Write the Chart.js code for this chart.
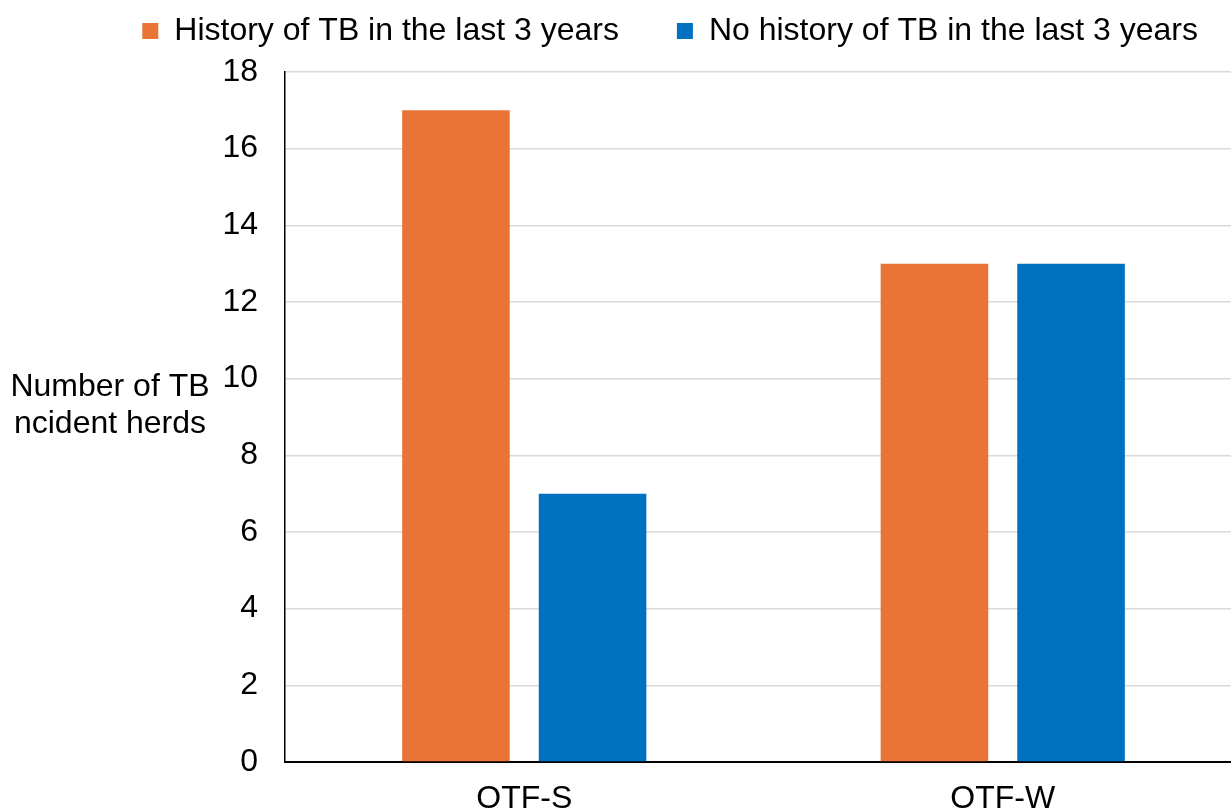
<!DOCTYPE html>
<html>
<head>
<meta charset="utf-8">
<script src="https://cdn.jsdelivr.net/npm/chart.js@4"></script>
<style>
  html, body { margin: 0; padding: 0; background: #fff; }
  #wrap { width: 1231px; height: 810px; }
</style>
</head>
<body>
<div id="wrap"><canvas id="herdChart" width="1231" height="810"></canvas></div>
<script>
const categories = ['OTF-S', 'OTF-W'];
const withHistory = [17, 13];
const noHistory = [7, 13];
const seriesNames = ['History of TB in the last 3 years', 'No history of TB in the last 3 years'];
const yTitleLines = ['Number of TB', 'ncident herds'];

const FONT = "'Liberation Sans', Arial, sans-serif";

// y title is horizontal in the original, so draw it ourselves
const sideTitle = {
  id: 'sideTitle',
  afterDraw(chart) {
    const ctx = chart.ctx;
    ctx.save();
    ctx.font = '32px ' + FONT;
    ctx.fillStyle = '#000';
    ctx.textAlign = 'center';
    ctx.textBaseline = 'alphabetic';
    ctx.fillText(yTitleLines[0], 110, 396);
    ctx.fillText(yTitleLines[1], 110, 433);
    ctx.restore();
  }
};

// legend tweaks: more room below it, and nudged into place
const legendGap = {
  id: 'legendGap',
  beforeUpdate(chart) {
    const lg = chart.legend;
    if (lg && !lg._patched) {
      const fit = lg.fit;
      lg.fit = function () {
        fit.call(this);
        this.height = 104;
      };
      const draw = lg.draw;
      lg.draw = function () {
        this.ctx.save();
        this.ctx.translate(25, -11);
        draw.apply(this, arguments);
        this.ctx.restore();
      };
      lg._patched = true;
    }
  },
  // plot runs a little past the right edge of the canvas in the original
  afterLayout(chart) {
    const x = chart.scales.x;
    x.right = 1242;
    x.width = x.right - x.left;
    x.configure();
  }
};

let ctx = document.getElementById('herdChart').getContext('2d');
let herdChart = new Chart(ctx, {
  type: 'bar',
  data: {
    labels: categories,
    datasets: [{
      label: seriesNames[0],
      backgroundColor: 'rgb(234, 116, 53)',
      data: withHistory,
      categoryPercentage: 0.571,
      barPercentage: 0.7875
    }, {
      label: seriesNames[1],
      backgroundColor: 'rgb(0, 112, 192)',
      data: noHistory,
      categoryPercentage: 0.571,
      barPercentage: 0.7875
    }]
  },
  options: {
    responsive: false,
    animation: false,
    layout: { padding: { top: -32, right: 0, bottom: 0, left: 0 } },
    plugins: {
      legend: {
        position: 'top',
        align: 'end',
        labels: {
          font: { family: FONT, size: 32 },
          color: '#000',
          boxWidth: 16,
          boxHeight: 16,
          padding: 58
        }
      },
      tooltip: { enabled: false }
    },
    scales: {
      x: {
        grid: { display: false },
        border: { color: '#000', width: 2 },
        ticks: { font: { family: FONT, size: 32 }, color: '#000', padding: 10 },
        afterFit(scale) { scale.height = 48; }
      },
      y: {
        min: 0,
        max: 18,
        ticks: { stepSize: 2, font: { family: FONT, size: 32 }, color: '#000', padding: 27 },
        grid: { color: '#d9d9d9', lineWidth: 1.5, drawTicks: false },
        border: { color: '#000', width: 1.5 },
        afterFit(scale) { scale.width = 285; }
      }
    }
  },
  plugins: [sideTitle, legendGap]
});
</script>
</body>
</html>
